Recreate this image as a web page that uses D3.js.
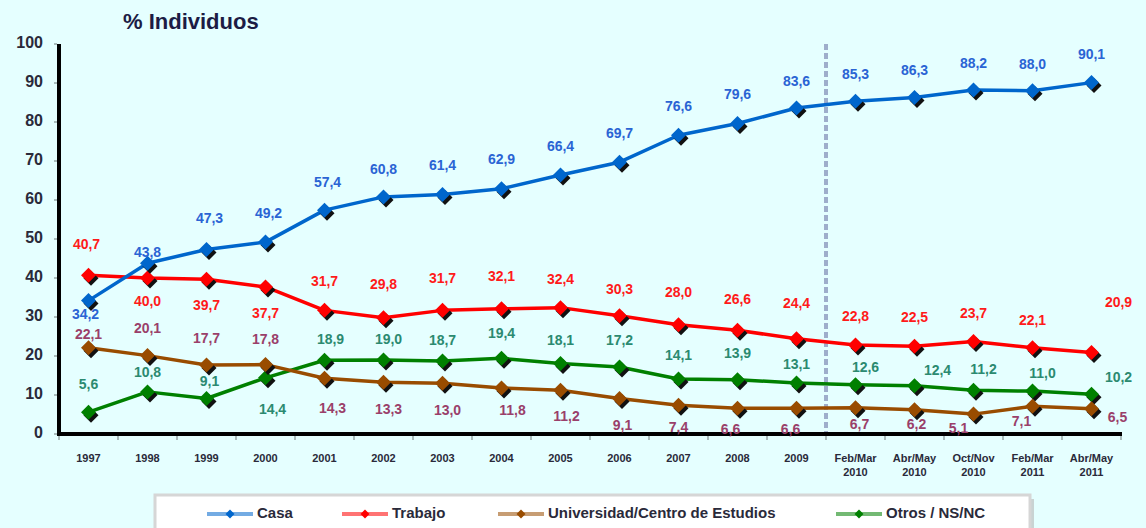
<!DOCTYPE html>
<html><head><meta charset="utf-8">
<script src="https://cdn.jsdelivr.net/npm/d3@7"></script>
<style>html,body{margin:0;padding:0;background:#e5ffff;}svg{display:block;}</style>
</head><body>
<svg id="chart" width="1146" height="528"></svg>
<script>
// ---- data ----
const categories = ["1997","1998","1999","2000","2001","2002","2003","2004","2005","2006","2007","2008","2009",
  "Feb/Mar 2010","Abr/May 2010","Oct/Nov 2010","Feb/Mar 2011","Abr/May 2011"];
const casa        = [34.2,43.8,47.3,49.2,57.4,60.8,61.4,62.9,66.4,69.7,76.6,79.6,83.6,85.3,86.3,88.2,88.0,90.1];
const trabajo     = [40.7,40.0,39.7,37.7,31.7,29.8,31.7,32.1,32.4,30.3,28.0,26.6,24.4,22.8,22.5,23.7,22.1,20.9];
const universidad = [22.1,20.1,17.7,17.8,14.3,13.3,13.0,11.8,11.2,9.1,7.4,6.6,6.6,6.7,6.2,5.1,7.1,6.5];
const otros       = [5.6,10.8,9.1,14.4,18.9,19.0,18.7,19.4,18.1,17.2,14.1,13.9,13.1,12.6,12.4,11.2,11.0,10.2];
const seriesNames = ["Casa","Trabajo","Universidad/Centro de Estudios","Otros / NS/NC"];
const yTicks = [0,10,20,30,40,50,60,70,80,90,100];
const titleText = "% Individuos";
const dividerAfter = "2009";

// ---- label placement (offsets from each point) ----
const labelDy = [
  [15,-10,-30,-28,-27,-27,-28,-28,-28,-28,-28,-28,-26,-26,-26,-26,-26,-27],
  [-30,24,27,27,-28,-32,-31,-32,-27,-26,-32,-30,-35,-28,-28,-27,-27,-49],
  [-13,-26,-26,-24,31,28,28,23,27,28,23,22,22,17,15,15,16,10],
  [-27,-19,-16,32,-20,-20,-20,-24,-22,-26,-23,-25,-18,-17,-14,-20,-17,-16]
];
const labelDx = [
  [-3,0,3,3,3,0,0,0,0,0,0,0,0,0,0,0,0,0],
  [-2,0,0,0,0,0,0,0,0,0,0,0,0,0,0,0,0,27],
  [0,0,0,0,8,5,5,11,6,3,0,-7,-6,4,2,-15,-11,26],
  [0,0,3,7,6,5,0,0,0,0,0,0,0,10,23,10,10,27]
];
const legendStarts = [207,342,498,836];

const lineColors  = ["#0066cc","#ff0000","#994c00","#008000"];
const labelColors = ["#2a64d4","#ff1a1a","#9a3f6a","#2b8a70"];

const svg = d3.select("#chart");
const W = 1146, H = 528;
svg.append("rect").attr("width",W).attr("height",H).attr("fill","#e5ffff");

const x = d3.scaleBand().domain(categories).range([59,1121]).paddingInner(0).paddingOuter(0);
const y = d3.scaleLinear().domain([0,100]).range([434,44]);
const cx = c => x(c) + x.bandwidth()/2;
const FONT = "Liberation Sans, Arial, sans-serif";

// title
svg.append("text").attr("x",123).attr("y",29).text(titleText)
  .attr("font-family",FONT).attr("font-weight","bold")
  .attr("font-size",22).attr("fill","#1c1c44");

// y axis ticks + labels
const gy = svg.append("g");
yTicks.forEach(t=>{
  gy.append("line").attr("x1",54).attr("x2",57).attr("y1",y(t)).attr("y2",y(t))
    .attr("stroke","#a9bcbc").attr("stroke-width",2);
  gy.append("text").attr("x",43).attr("y",y(t)).attr("text-anchor","end")
    .attr("dominant-baseline","middle").text(t)
    .attr("font-family",FONT).attr("font-weight","bold")
    .attr("font-size",16).attr("fill","#2a2a3a");
});

// x ticks
const bounds = categories.map(c=>x(c)).concat([x(categories[categories.length-1])+x.bandwidth()]);
bounds.forEach(b=>{
  svg.append("line").attr("x1",b).attr("x2",b).attr("y1",436).attr("y2",440)
    .attr("stroke","#a9bcbc").attr("stroke-width",2);
});
// x labels
categories.forEach(c=>{
  const parts = c.split(" ");
  const t = svg.append("text").attr("text-anchor","middle")
    .attr("font-family",FONT).attr("font-weight","bold")
    .attr("font-size",11).attr("fill","#2a2a3a");
  parts.forEach((p,i)=>{
    t.append("tspan").attr("x",cx(c)).attr("y",462+i*14).text(p);
  });
});

// divider line
const divX = x(dividerAfter)+x.bandwidth();
svg.append("line").attr("x1",divX).attr("x2",divX).attr("y1",y(100)).attr("y2",y(0))
  .attr("stroke","#9eaecb").attr("stroke-width",4).attr("stroke-dasharray","6,3");

// axes lines
svg.append("line").attr("x1",59).attr("x2",59).attr("y1",y(100)).attr("y2",y(0)+2)
  .attr("stroke","#000").attr("stroke-width",4);
svg.append("line").attr("x1",57).attr("x2",1122).attr("y1",y(0)).attr("y2",y(0))
  .attr("stroke","#000").attr("stroke-width",4);

const allSeries = [casa,trabajo,universidad,otros];
const diamond = (s)=>`M0,${-s}L${s},0L0,${s}L${-s},0Z`;
const line = d3.line().x((d,i)=>cx(categories[i])).y(d=>y(d));

[3,2,1,0].forEach(k=>{
  svg.append("path").attr("d",line(allSeries[k])).attr("fill","none")
    .attr("stroke",lineColors[k]).attr("stroke-width",3.5).attr("stroke-linejoin","round");
});
[3,2,1,0].forEach(k=>{
  const g = svg.append("g");
  allSeries[k].forEach((v,i)=>{
    const px = cx(categories[i]), py = y(v);
    g.append("path").attr("d",diamond(7.5)).attr("transform",`translate(${px+2.5},${py+3})`).attr("fill","#111");
    g.append("path").attr("d",diamond(7.5)).attr("transform",`translate(${px},${py})`).attr("fill",lineColors[k]);
  });
});
// data labels
[3,2,1,0].forEach(k=>{
  allSeries[k].forEach((v,i)=>{
    svg.append("text").attr("x",cx(categories[i])+labelDx[k][i]).attr("y",y(v)+labelDy[k][i])
      .attr("text-anchor","middle").attr("dominant-baseline","middle")
      .attr("font-family",FONT).attr("font-weight","bold")
      .attr("font-size",14).attr("fill",labelColors[k])
      .text(d3.format(".1f")(v).replace(".",","));
  });
});

// legend
svg.append("rect").attr("x",159).attr("y",499).attr("width",875).attr("height",60).attr("fill","#c9d3d3");
svg.append("rect").attr("x",155).attr("y",495).attr("width",875).attr("height",60)
  .attr("fill","#ffffff").attr("stroke","#d6d6d6").attr("stroke-width",3);
const ly = 514;
seriesNames.forEach((n,k)=>{
  const lx = legendStarts[k];
  svg.append("line").attr("x1",lx).attr("x2",lx+46).attr("y1",ly).attr("y2",ly)
    .attr("stroke",lineColors[k]).attr("stroke-width",4).attr("stroke-opacity",0.55);
  svg.append("path").attr("d",diamond(4.5)).attr("transform",`translate(${lx+23},${ly})`).attr("fill",lineColors[k]);
  svg.append("text").attr("x",lx+50).attr("y",ly).attr("dominant-baseline","middle")
    .attr("font-family",FONT).attr("font-weight","bold")
    .attr("font-size",15).attr("fill","#2a2a3a").text(n);
});
</script>
</body></html>
